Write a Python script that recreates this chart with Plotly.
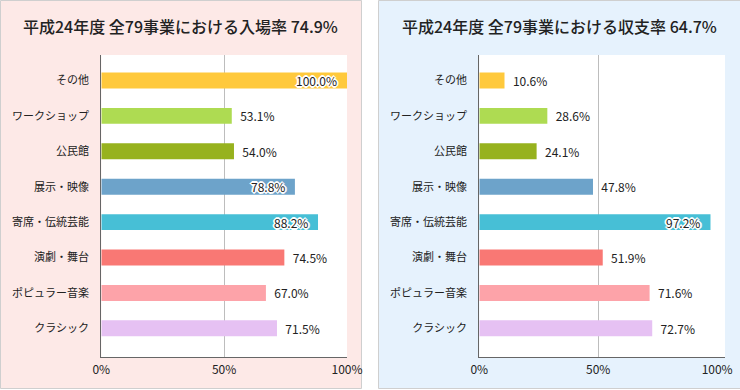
import plotly.graph_objects as go

W, H = 740, 390

categories = ["その他", "ワークショップ", "公民館", "展示・映像", "寄席・伝統芸能", "演劇・舞台", "ポピュラー音楽", "クラシック"]
attendance = [100.0, 53.1, 54.0, 78.8, 88.2, 74.5, 67.0, 71.5]
balance = [10.6, 28.6, 24.1, 47.8, 97.2, 51.9, 71.6, 72.7]
bar_colors = ["#FFC93C", "#AEDB52", "#97B21E", "#6DA3CA", "#47BFD6", "#F97874", "#FDA3A9", "#E6C1F3"]
tick_vals = [0, 50, 100]
tick_text = ["0%", "50%", "100%"]
title_left = "平成24年度 全79事業における入場率 74.9%"
title_right = "平成24年度 全79事業における収支率 64.7%"

FONT = "Noto Sans CJK JP, Noto Sans, sans-serif"
INSIDE_MIN = 75
HALO = ("1px 0 0 #fff, -1px 0 0 #fff, 0 1px 0 #fff, 0 -1px 0 #fff, "
        "1px 1px 0 #fff, -1px -1px 0 #fff, 1px -1px 0 #fff, -1px 1px 0 #fff, "
        "2px 0 0 #fff, -2px 0 0 #fff, 0 2px 0 #fff, 0 -2px 0 #fff")


def px_x(p):
    return p / W


def px_y(p):
    return 1 - p / H


def bar_trace(values, xa, ya):
    txt = ["" if v >= INSIDE_MIN else f"  {v:.1f}%" for v in values]
    return go.Bar(
        x=values, y=categories, orientation="h",
        marker=dict(color=bar_colors, line=dict(width=0)),
        width=0.45,
        text=txt, textposition="outside", textangle=0,
        constraintext="none", cliponaxis=False,
        textfont=dict(family=FONT, size=12, color="#222"),
        outsidetextfont=dict(family=FONT, size=12, color="#222"),
        hoverinfo="skip", xaxis=xa, yaxis=ya, showlegend=False,
    )


def inside_labels(values, xa, ya):
    out = []
    for c, v in zip(categories, values):
        if v >= INSIDE_MIN:
            out.append(dict(
                text=f"{v:.1f}%", x=v, y=c, xref=xa, yref=ya, showarrow=False,
                xanchor="right", yanchor="middle", xshift=-8,
                font=dict(family=FONT, size=12, color="#222", shadow=HALO),
            ))
    return out


fig = go.Figure()
fig.add_trace(bar_trace(attendance, "x", "y"))
fig.add_trace(bar_trace(balance, "x2", "y2"))

ydom = [px_y(357), px_y(55)]
yrange = [7.81, -0.72]
common_x = dict(
    tickmode="array", tickvals=tick_vals, ticktext=tick_text,
    showgrid=False, zeroline=False, showline=True, linecolor="#666", linewidth=1,
    ticks="", ticklabelstandoff=2,
    tickfont=dict(family=FONT, size=12, color="#222"),
    minor=dict(tickmode="array", tickvals=[50], showgrid=True, gridcolor="#BDBDBD", gridwidth=1, ticks=""),
    fixedrange=True, automargin=False,
)
common_y = dict(
    type="category", categoryorder="array", categoryarray=categories,
    range=yrange, showgrid=False, zeroline=False, showline=True, linecolor="#666", linewidth=1,
    ticks="", ticklabelstandoff=9,
    tickfont=dict(family=FONT, size=11, color="#222"),
    fixedrange=True, automargin=False,
)

annotations = [
    dict(text=title_left, xref="paper", yref="paper", x=px_x(180), y=px_y(26), showarrow=False,
         xanchor="center", yanchor="middle", font=dict(family=FONT, size=16, color="#222", weight=500)),
    dict(text=title_right, xref="paper", yref="paper", x=px_x(559), y=px_y(26), showarrow=False,
         xanchor="center", yanchor="middle", font=dict(family=FONT, size=16, color="#222", weight=500)),
]
annotations += inside_labels(attendance, "x", "y")
annotations += inside_labels(balance, "x2", "y2")

fig.update_layout(
    width=W, height=H, autosize=False,
    margin=dict(l=0, r=0, t=0, b=0, pad=0),
    paper_bgcolor="white", plot_bgcolor="rgba(0,0,0,0)",
    bargap=0.5,
    xaxis=dict(domain=[px_x(101.3), px_x(347)], range=[0, 100], anchor="y", **common_x),
    yaxis=dict(domain=ydom, anchor="x", **common_y),
    xaxis2=dict(domain=[px_x(479.3), px_x(725)], range=[0, 103.3], anchor="y2", **common_x),
    yaxis2=dict(domain=ydom, anchor="x2", **common_y),
    shapes=[
        dict(type="rect", xref="paper", yref="paper", x0=px_x(0.5), x1=px_x(361.5), y0=px_y(0.5), y1=px_y(388.5),
             fillcolor="#FDE9E7", line=dict(color="#CFCFCF", width=1), layer="below"),
        dict(type="rect", xref="paper", yref="paper", x0=px_x(378.5), x1=px_x(741), y0=px_y(0.5), y1=px_y(388.5),
             fillcolor="#E6F2FD", line=dict(color="#CFCFCF", width=1), layer="below"),
        dict(type="rect", xref="x domain", yref="y domain", x0=0, x1=1, y0=0, y1=1,
             fillcolor="white", line=dict(width=0), layer="below"),
        dict(type="rect", xref="x2 domain", yref="y2 domain", x0=0, x1=1, y0=0, y1=1,
             fillcolor="white", line=dict(width=0), layer="below"),
    ],
    annotations=annotations,
)

fig.write_html(
    "out.html",
    config={"displayModeBar": False, "responsive": False},
    post_script="document.body.style.margin='0';document.body.style.overflow='hidden';",
)
